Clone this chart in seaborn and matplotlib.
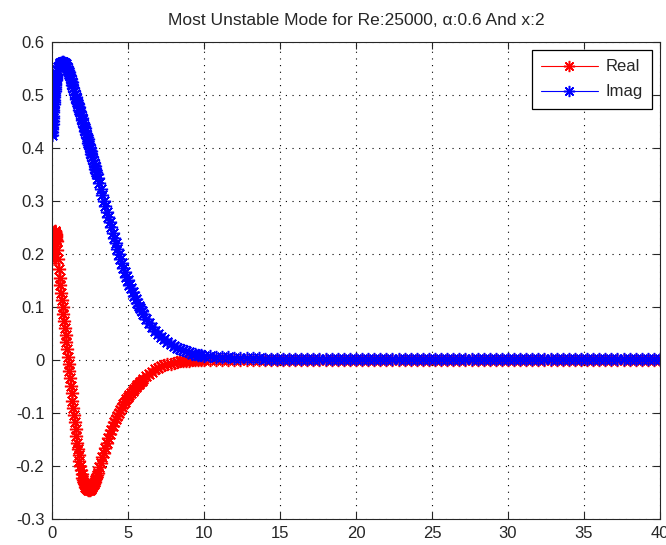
import numpy as np
import pandas as pd
import matplotlib
matplotlib.use("Agg")
import matplotlib.pyplot as plt
import seaborn as sns

# ---- data ----
# sample positions along x (denser near the wall, as in the reference)
x_0 = [round(v, 2) for v in np.arange(0.0, 0.301, 0.01)]      # 31 pts
x_a = [round(v, 2) for v in np.arange(0.35, 3.001, 0.05)]     # 54 pts
x_b = [round(v, 2) for v in np.arange(3.1, 6.001, 0.1)]       # 30 pts
x_c = [round(v, 2) for v in np.arange(6.2, 10.001, 0.2)]      # 20 pts
x_d = [round(v, 2) for v in np.arange(10.4, 40.001, 0.4)]     # 75 pts

real_0 = [0.19, 0.195, 0.2, 0.205, 0.21, 0.215, 0.219, 0.223, 0.227, 0.23,
          0.233, 0.236, 0.238, 0.24, 0.241, 0.242, 0.242, 0.243, 0.243,
          0.242, 0.242, 0.241, 0.24, 0.239, 0.237, 0.235, 0.233, 0.231,
          0.229, 0.227, 0.225]
real_a = [0.208, 0.19, 0.172,
          0.155, 0.141, 0.127, 0.113, 0.10, 0.087, 0.073, 0.06, 0.047, 0.033,
          0.02, 0.006, -0.007, -0.021, -0.035, -0.049, -0.063, -0.077, -0.09,
          -0.104, -0.117, -0.13, -0.143, -0.156, -0.168, -0.179, -0.19, -0.2,
          -0.208, -0.215, -0.222, -0.227, -0.232, -0.236, -0.239, -0.241,
          -0.243, -0.244, -0.245, -0.245, -0.245, -0.244, -0.242, -0.24,
          -0.237, -0.234, -0.23, -0.226, -0.222, -0.218, -0.213]
real_b = [-0.203, -0.194, -0.184, -0.175, -0.166, -0.157, -0.148, -0.14,
          -0.132, -0.125, -0.118, -0.112, -0.106, -0.1, -0.094, -0.089,
          -0.084, -0.079, -0.074, -0.07, -0.066, -0.062, -0.058, -0.055,
          -0.051, -0.048, -0.045, -0.042, -0.039, -0.036]
real_c = [-0.031, -0.026, -0.022, -0.018, -0.015, -0.012, -0.01, -0.008,
          -0.007, -0.005, -0.004, -0.003, -0.003, -0.002, -0.002, -0.001,
          -0.001, -0.001, 0.0, 0.0]
real_d = [0.0] * 75

imag_0 = [0.425, 0.43, 0.435, 0.44, 0.445, 0.45, 0.456, 0.461, 0.467, 0.472,
          0.478, 0.482, 0.487, 0.491, 0.496, 0.5, 0.504, 0.508, 0.511, 0.515,
          0.518, 0.521, 0.523, 0.526, 0.528, 0.53, 0.532, 0.534, 0.536,
          0.538, 0.54]
imag_a = [0.547, 0.552, 0.555,
          0.558, 0.56, 0.561, 0.562, 0.562, 0.562, 0.561, 0.56, 0.558, 0.555,
          0.552, 0.548, 0.544, 0.54, 0.535, 0.53, 0.524, 0.519, 0.513, 0.508,
          0.502, 0.497, 0.492, 0.487, 0.482, 0.477, 0.472, 0.467, 0.462,
          0.457, 0.452, 0.447, 0.442, 0.437, 0.432, 0.426, 0.421, 0.416, 0.41,
          0.405, 0.399, 0.394, 0.388, 0.383, 0.377, 0.372, 0.366, 0.361,
          0.355, 0.35, 0.344]
imag_b = [0.333, 0.322, 0.311, 0.3, 0.29, 0.28, 0.27, 0.26, 0.25, 0.24, 0.23,
          0.22, 0.21, 0.2, 0.191, 0.182, 0.173, 0.165, 0.157, 0.15, 0.142,
          0.135, 0.128, 0.121, 0.114, 0.108, 0.102, 0.097, 0.092, 0.087]
imag_c = [0.078, 0.07, 0.062, 0.055, 0.049, 0.044, 0.039, 0.034, 0.03, 0.026,
          0.023, 0.02, 0.018, 0.016, 0.014, 0.012, 0.011, 0.01, 0.009, 0.008]
imag_d = [0.007, 0.006, 0.005, 0.005, 0.004, 0.004, 0.003, 0.003, 0.003,
          0.002, 0.002, 0.002, 0.002] + [0.001] * 62

x_vals = x_0 + x_a + x_b + x_c + x_d
real_vals = real_0 + real_a + real_b + real_c + real_d
imag_vals = imag_0 + imag_a + imag_b + imag_c + imag_d

x_ticks = [0, 5, 10, 15, 20, 25, 30, 35, 40]
y_ticks = [-0.3, -0.2, -0.1, 0, 0.1, 0.2, 0.3, 0.4, 0.5, 0.6]
y_tick_labels = ["-0.3", "-0.2", "-0.1", "0", "0.1", "0.2", "0.3", "0.4",
                 "0.5", "0.6"]
title_text = "Most Unstable Mode for Re:25000, \u03b1:0.6 And x:2"

df = pd.DataFrame({"x": x_vals, "Real": real_vals, "Imag": imag_vals})

# ---- style ----
sns.set_style("white")
plt.rcParams["font.family"] = ["Liberation Sans", "DejaVu Sans"]
plt.rcParams["font.size"] = 12

fig = plt.figure(figsize=(6.66, 5.45), dpi=100)
ax = fig.add_axes([0.078, 0.048, 0.913, 0.875])

ast = (8, 2, 0)
common = dict(ax=ax, markersize=9.5, markeredgewidth=1.1, linewidth=0.8,
              estimator=None, sort=False)
sns.lineplot(data=df, x="x", y="Real", color="#ff0000", marker=ast,
             markeredgecolor="#ff0000", label="Real", **common)
sns.lineplot(data=df, x="x", y="Imag", color="#0000ff", marker=ast,
             markeredgecolor="#0000ff", label="Imag", **common)

ax.set_xlim(0, 40)
ax.set_ylim(-0.3, 0.6)
ax.set_xticks(x_ticks)
ax.set_xticklabels([str(t) for t in x_ticks])
ax.set_yticks(y_ticks)
ax.set_yticklabels(y_tick_labels)
ax.set_xlabel("")
ax.set_ylabel("")

ax.grid(True, color="black", linestyle=(0, (1, 5)), linewidth=0.8)
ax.set_axisbelow(True)
for s in ax.spines.values():
    s.set_visible(True)
    s.set_color("#262626")
    s.set_linewidth(0.8)
ax.tick_params(direction="in", length=5, width=0.8, color="#262626",
               top=True, right=True, bottom=True, left=True,
               labelsize=12, pad=5.5)

ax.set_title(title_text, fontsize=12.5, pad=12)

leg = ax.legend(loc="upper right", frameon=True, fancybox=False,
                edgecolor="black", framealpha=1, fontsize=12,
                handlelength=3.4, handletextpad=0.45, labelspacing=0.6,
                borderpad=0.55, borderaxespad=0.5, markerscale=0.85)
leg.get_frame().set_linewidth(0.9)

fig.savefig("out.png", dpi=100)
